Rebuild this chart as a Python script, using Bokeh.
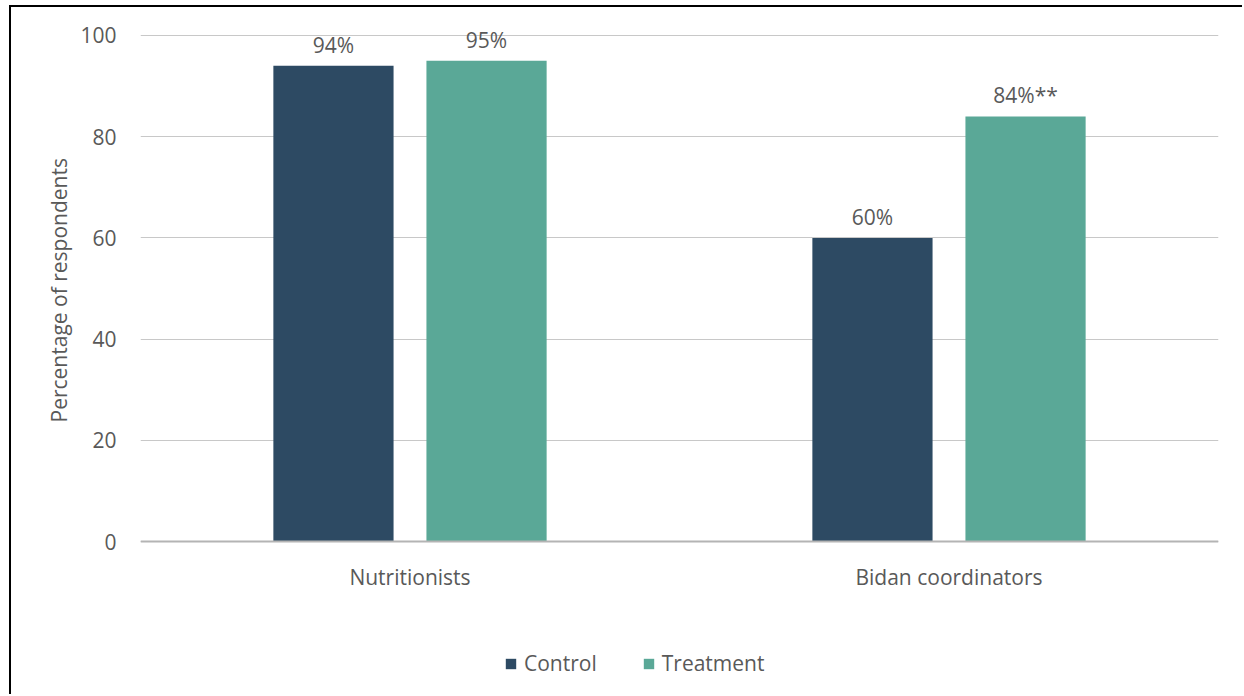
from bokeh.plotting import figure
from bokeh.models import (ColumnDataSource, Legend, LegendItem, FactorRange, Range1d,
                          Span, Title)
from bokeh.transform import dodge
from bokeh.core.properties import value
from bokeh.embed import file_html
from bokeh.resources import INLINE

# Survey results by respondent group
groups = ["Nutritionists", "Bidan coordinators"]
control = [94, 60]
treatment = [95, 84]
control_labels = ["94%", "60%"]
treatment_labels = ["95%", "84%**"]
y_ticks = [0, 20, 40, 60, 80, 100]

CONTROL_COLOR = "#2D4A63"
TREATMENT_COLOR = "#5AA897"
TEXT_COLOR = "#595959"
FONT = "Open Sans"
FS = "21px"

src = ColumnDataSource(dict(
    group=groups,
    control=control,
    treatment=treatment,
    control_label=control_labels,
    treatment_label=treatment_labels,
))

# The plot area runs from the top edge to the bottom of the page, so the value
# labels, category names and legend all sit inside it; the bars use 0..100.
p = figure(
    x_range=FactorRange(*groups, range_padding=0),
    y_range=Range1d(-30.63, 105.53),
    width=1233, height=689,
    output_backend="svg", toolbar_location=None,
    min_border_left=129, min_border_right=26,
    min_border_top=0, min_border_bottom=0,
)
p.styles = {
    "margin-left": "9px", "margin-top": "5px",
    "border-left": "2px solid black", "border-top": "2px solid black",
}
p.outline_line_color = None
p.background_fill_color = "white"

bar_w = 0.223
off = 0.142
r_c = p.vbar(x=dodge("group", -off, range=p.x_range), top="control", width=bar_w,
             source=src, fill_color=CONTROL_COLOR, line_color=None)
r_t = p.vbar(x=dodge("group", off, range=p.x_range), top="treatment", width=bar_w,
             source=src, fill_color=TREATMENT_COLOR, line_color=None)

# value labels above the bars
for col, lab, o in (("control", "control_label", -off), ("treatment", "treatment_label", off)):
    p.text(x=dodge("group", o, range=p.x_range), y=col, text=lab, source=src,
           text_align="center", text_baseline="bottom", y_offset=-7,
           text_font=value(FONT), text_font_size=FS, text_color=TEXT_COLOR)

# category axis: base line at zero and group names beneath it
p.xaxis.visible = False
p.add_layout(Span(location=0, dimension="width", line_color="#B4B4B4", line_width=2))
p.text(x="group", y=0, text="group", source=src, y_offset=35,
       text_align="center", text_baseline="middle",
       text_font=value(FONT), text_font_size=FS, text_color=TEXT_COLOR)

# value axis
p.yaxis.ticker = y_ticks
p.yaxis.axis_line_color = None
p.yaxis.major_tick_line_color = None
p.yaxis.minor_tick_line_color = None
p.yaxis.major_label_text_font = FONT
p.yaxis.major_label_text_font_size = FS
p.yaxis.major_label_text_color = TEXT_COLOR
p.yaxis.major_label_standoff = 18

# axis title, centred on the 0..100 span rather than on the whole plot area
p.add_layout(Title(text="Percentage of respondents", align="left", offset=274,
                   text_font=FONT, text_font_size=FS, text_font_style="normal",
                   text_color=TEXT_COLOR, standoff=10), "left")

p.xgrid.grid_line_color = None
p.ygrid.grid_line_color = "#C8C8C8"
p.ygrid.grid_line_width = 1

legend = Legend(
    items=[LegendItem(label="Control", renderers=[r_c]),
           LegendItem(label="Treatment", renderers=[r_t])],
    orientation="horizontal", location=(364, 19),
    glyph_width=13, glyph_height=13, label_standoff=7, spacing=45,
    padding=0, margin=0, border_line_color=None, background_fill_alpha=0,
    label_text_font=FONT, label_text_font_size=FS, label_text_color=TEXT_COLOR,
)
p.add_layout(legend, "center")

open("out.html", "w").write(file_html(p, INLINE))
